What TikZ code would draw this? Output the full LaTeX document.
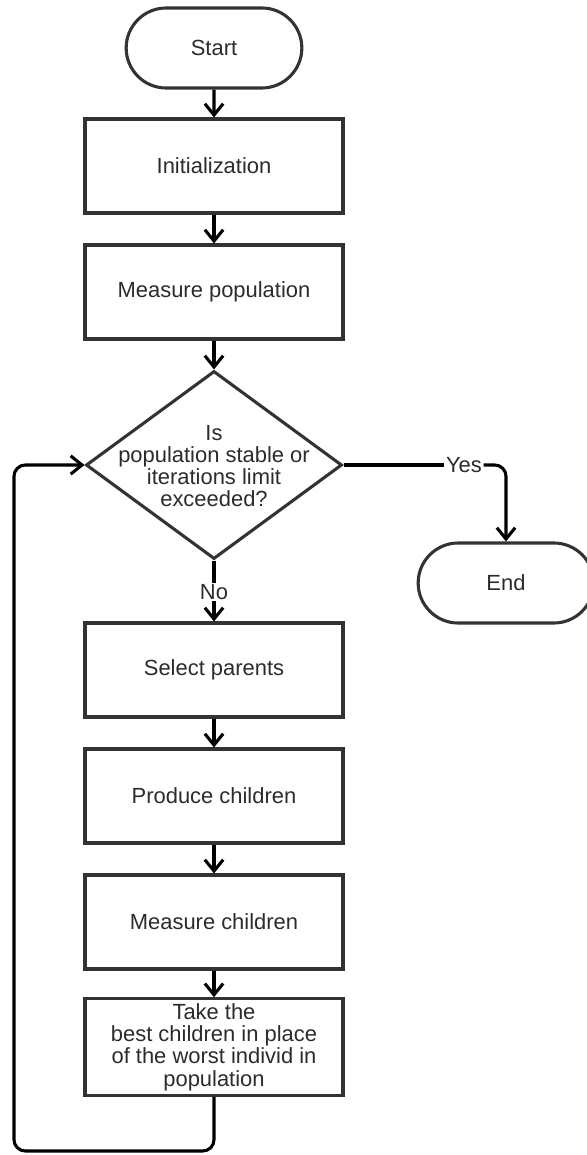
\documentclass[tikz,border=0pt]{standalone}
\usepackage{fontspec}
\setmainfont{Liberation Sans}
\usetikzlibrary{shapes.geometric,shapes.misc,arrows.meta}
\definecolor{boxline}{HTML}{333333}
\definecolor{txt}{HTML}{2B2B2B}

\begin{document}
\begin{tikzpicture}[x=0.025cm,y=-0.025cm,
	every node/.style={font=\fontsize{15.6pt}{15.8pt}\selectfont,text=txt},
	term/.style={rounded rectangle,draw=boxline,line width=2.2pt,minimum width=4.625cm,minimum height=2cm},
	proc/.style={rectangle,draw=boxline,line width=2.2pt,minimum width=6.45cm,minimum height=2.35cm,align=center},
	decide/.style={diamond,draw=boxline,line width=2.2pt,minimum width=6.4cm,minimum height=4.7cm,inner sep=0pt},
	label/.style={inner sep=1pt},
	flow/.style={line width=2.2pt,-{Straight Barb[length=8pt,width=13pt]}},
	link/.style={line width=2.2pt}]
		\useasboundingbox (0,0) rectangle (586,1155);

		\node[term] (start) at (214,48) {Start};
		\node[proc] (init) at (214,166) {Initialization};
		\node[proc] (mpop) at (214,292) {Measure population};
		\node[decide] (q) at (214,465) {};
		\node[align=center] (qtext) at (214,466) {Is\\population stable or\\iterations limit\\exceeded?};
		\node[term] (end) at (506,583) {End};
		\node[label] (yes) at (464,465) {Yes};
		\node[label] (no) at (214,592) {No};
		\node[proc] (sel) at (214,670) {Select parents};
		\node[proc] (prod) at (214,796) {Produce children};
		\node[proc] (mch) at (214,922) {Measure children};
		\node[proc] (take) at (214,1047) {Take the\\best children in place\\of the worst individ in\\population};
		\coordinate (lb) at (14,1151);

		\draw[flow] (start) -- (init);
		\draw[flow] (init) -- (mpop);
		\draw[flow] (mpop) -- (q);
		\draw[link] (q) -- (yes);
		\draw[flow,rounded corners=8pt] (yes) -| (end);
		\draw[link] (q) -- (no);
		\draw[flow] (no) -- (sel);
		\draw[flow] (sel) -- (prod);
		\draw[flow] (prod) -- (mch);
		\draw[flow] (mch) -- (take);
		\draw[flow,rounded corners=8pt] (take) -- (take |- lb) -- (lb) -- (lb |- q) -- (q);

\end{tikzpicture}
\end{document}
